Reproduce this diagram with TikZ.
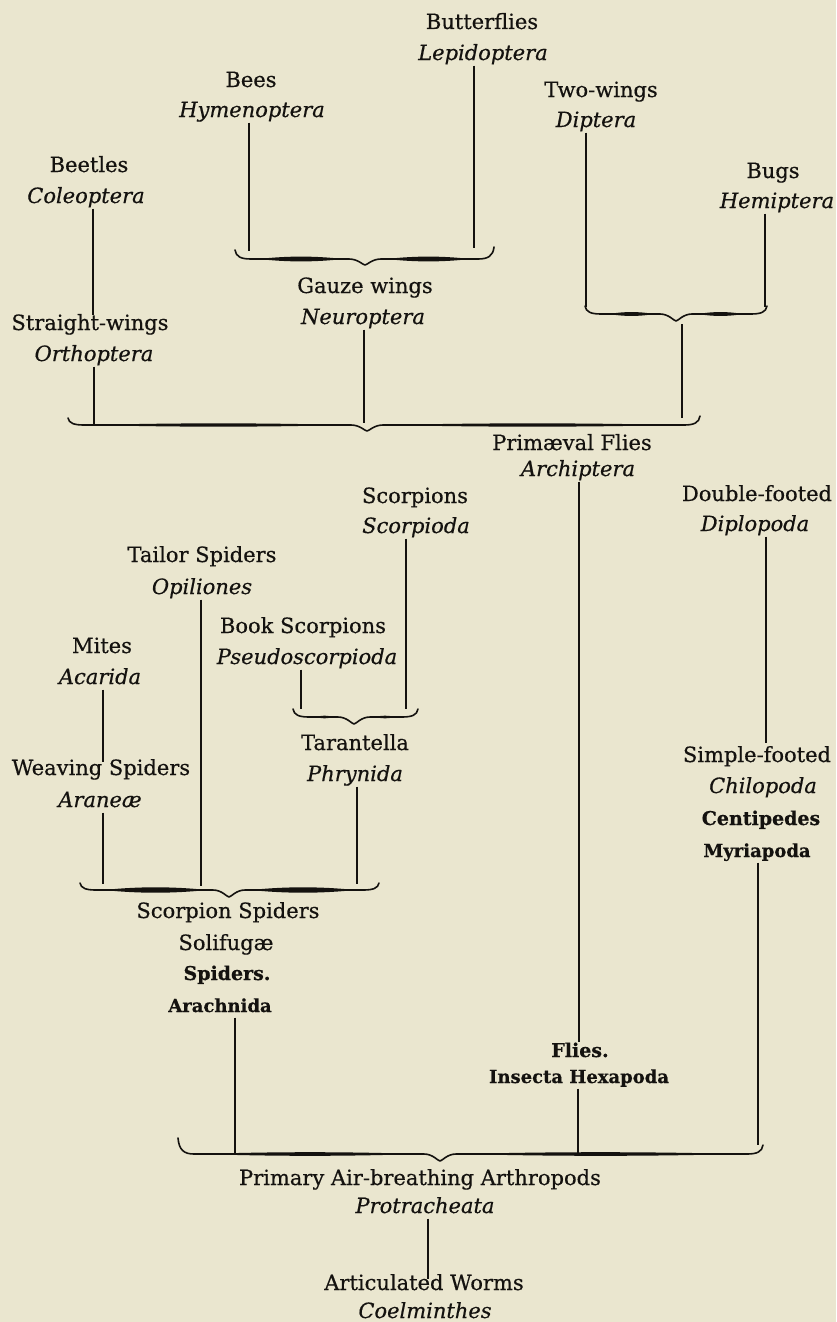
\documentclass[tikz,border=0pt]{standalone}
\usepackage{fontspec}
\setmainfont{DejaVu Serif}[FakeBold=0.5]
\definecolor{paper}{RGB}{234,230,207}
\definecolor{ink}{RGB}{20,18,15}
\tikzset{
  lab/.style={anchor=base, inner sep=3pt, text height=0.75em, text depth=0.25em,
    font=\fontsize{21}{25}\selectfont, text=ink},
  itl/.style={lab, font=\fontsize{21}{25}\selectfont\itshape},
  bld/.style={lab, font=\fontsize{18}{22}\selectfont\bfseries},
  gth/.style={lab, font=\fontsize{19}{25}\selectfont\bfseries},
  conn/.style={draw=ink, line width=1.5},
  brc/.style={draw=ink, line width=1.6, line cap=round, line join=round},
  brcfill/.style={fill=ink}
}
\newcommand\hbr[8]{%
  \pgfmathsetmacro\brHa{#1+16}\pgfmathsetmacro\brHb{#3-16}%
  \pgfmathsetmacro\brHc{#3+16}\pgfmathsetmacro\brHd{#5-16}%
  \pgfmathsetmacro\brCa{#2+0.75*(#4-#2)}\pgfmathsetmacro\brCb{#6+0.75*(#4-#6)}%
  \pgfmathsetmacro\brLa{#1+24}\pgfmathsetmacro\brLb{#3-22}%
  \pgfmathsetmacro\brLc{#3+22}\pgfmathsetmacro\brLd{#5-24}%
  \pgfmathsetmacro\brLab{(\brLb-\brLa)/3}\pgfmathsetmacro\brLcd{(\brLd-\brLc)/3}%
  \pgfmathsetmacro\brUp{#4-#8}\pgfmathsetmacro\brDn{#4+#8}%
  \draw[brc] (#1,#2) .. controls (#1+1,\brCa) and (#1+6,#4) .. (\brHa,#4)
    -- (\brHb,#4) .. controls (#3-7,#4) and (#3-2,#7) .. (#3,#7)
    .. controls (#3+2,#7) and (#3+7,#4) .. (\brHc,#4)
    -- (\brHd,#4) .. controls (#5-6,#4) and (#5-1,\brCb) .. (#5,#6);
  \fill[brcfill] (\brLa,#4) .. controls (\brLa+\brLab,\brDn) and (\brLb-\brLab,\brDn) .. (\brLb,#4)
    .. controls (\brLb-\brLab,\brUp) and (\brLa+\brLab,\brUp) .. cycle;
  \fill[brcfill] (\brLc,#4) .. controls (\brLc+\brLcd,\brDn) and (\brLd-\brLcd,\brDn) .. (\brLd,#4)
    .. controls (\brLd-\brLcd,\brUp) and (\brLc+\brLcd,\brUp) .. cycle;
}
\begin{document}
\begin{tikzpicture}[x=1pt,y=-1pt]
\fill[paper] (0,0) rectangle (836,1322);
\useasboundingbox (0,0) rectangle (836,1322);

% ---- insects, top
\node[lab] (butt) at (482,29) {Butterflies};
\node[itl] (lepi) at (483,60) {Lepidoptera};
\node[lab] (bees) at (251,87) {Bees};
\node[itl] (hyme) at (252,117) {Hymenoptera};
\node[lab] (twow) at (601,97) {Two-wings};
\node[itl] (dipt) at (596,127) {Diptera};
\node[lab] (beet) at (89,172) {Beetles};
\node[itl] (cole) at (86,203) {Coleoptera};
\node[lab] (bugs) at (773,178) {Bugs};
\node[itl] (hemi) at (777,208) {Hemiptera};
\node[lab] (gauz) at (365,293) {Gauze wings};
\node[itl] (neur) at (363,324) {Neuroptera};
\node[lab] (stra) at (90,330) {Straight-wings};
\node[itl] (orth) at (94,361) {Orthoptera};
\node[lab] (prim) at (572,450) {Primæval Flies};
\node[itl] (arch) at (578,476) {Archiptera};

% ---- spiders and myriapods
\node[lab] (scor) at (415,503) {Scorpions};
\node[itl] (scod) at (416,533) {Scorpioda};
\node[lab] (dbl) at (757,501) {Double-footed};
\node[itl] (dipl) at (755,531) {Diplopoda};
\node[lab] (tail) at (202,562) {Tailor Spiders};
\node[itl] (opil) at (202,594) {Opiliones};
\node[lab] (book) at (303,633) {Book Scorpions};
\node[itl] (pseu) at (307,664) {Pseudoscorpioda};
\node[lab] (mite) at (102,653) {Mites};
\node[itl] (acar) at (100,684) {Acarida};
\node[lab] (tara) at (355,750) {Tarantella};
\node[itl] (phry) at (355,781) {Phrynida};
\node[lab] (weav) at (101,775) {Weaving Spiders};
\node[itl] (aran) at (100,807) {Araneæ};
\node[lab] (ssp) at (228,918) {Scorpion Spiders};
\node[lab] (soli) at (226,950) {Solifugæ};
\node[gth] (spid) at (227,980) {Spiders.};
\node[bld] (arac) at (220,1012) {Arachnida};
\node[lab] (simp) at (757,762) {Simple-footed};
\node[itl] (chil) at (763,793) {Chilopoda};
\node[gth] (cent) at (761,825) {Centipedes};
\node[bld] (myri) at (757,857) {Myriapoda};
\node[gth] (flie) at (580,1057) {Flies.};
\node[bld] (inse) at (579,1083) {Insecta Hexapoda};
\node[lab] (pabr) at (420,1185) {Primary Air-breathing Arthropods};
\node[itl] (prot) at (425,1213) {Protracheata};
\node[lab] (artw) at (424,1290) {Articulated Worms};
\node[itl] (coel) at (425,1318) {Coelminthes};

% ---- braces
\hbr{235}{250}{365}{259}{494}{247}{265}{3.2}
\hbr{585}{306}{676}{314}{767}{306}{321}{2.6}
\hbr{68}{418}{367}{425}{700}{416}{431}{2.2}
\hbr{293}{709}{354}{717}{418}{709}{724}{1.8}
\hbr{80}{883}{229}{890}{379}{883}{897}{3.6}
\hbr{178}{1138}{440}{1154}{763}{1145}{1161}{2.4}

% ---- connector end points
\coordinate (b1l) at (249,251);
\coordinate (b1r) at (474,248);
\coordinate (b2l) at (586,307);
\coordinate (b2r) at (765,307);
\coordinate (b2t) at (682,324);
\coordinate (b3a) at (94,424);
\coordinate (b3b) at (364,423);
\coordinate (b3c) at (682,418);
\coordinate (b4l) at (301,709);
\coordinate (b4r) at (406,709);
\coordinate (b5a) at (103,884);
\coordinate (b5b) at (201,886);
\coordinate (b5c) at (357,884);
\coordinate (b6a) at (235,1153);
\coordinate (b6b) at (578,1153);
\coordinate (b6c) at (758,1145);
\coordinate (xbeet) at (93,0);
\coordinate (xmite) at (103,0);
\coordinate (xarch) at (579,0);
\coordinate (xdipl) at (766,0);
\coordinate (xprot) at (428,0);

% ---- connectors
\draw[conn] (hyme.south -| b1l) -- (b1l);
\draw[conn] (lepi.south -| b1r) -- (b1r);
\draw[conn] (dipt.south -| b2l) -- (b2l);
\draw[conn] (hemi.south -| b2r) -- (b2r);
\draw[conn] (cole.south -| xbeet) -- ([yshift=4pt]stra.north -| xbeet);
\draw[conn] (orth.south -| b3a) -- (b3a);
\draw[conn] (neur.south -| b3b) -- (b3b);
\draw[conn] (b2t) -- (b3c);
\draw[conn] (pseu.south -| b4l) -- (b4l);
\draw[conn] (scod.south -| b4r) -- (b4r);
\draw[conn] (opil.south -| b5b) -- (b5b);
\draw[conn] (acar.south -| xmite) -- ([yshift=2pt]weav.north -| xmite);
\draw[conn] (aran.south -| b5a) -- (b5a);
\draw[conn] (phry.south -| b5c) -- (b5c);
\draw[conn] (arch.south -| xarch) -- ([yshift=4pt]flie.north -| xarch);
\draw[conn] (dipl.south -| xdipl) -- ([yshift=8pt]simp.north -| xdipl);
\draw[conn] (arac.south -| b6a) -- (b6a);
\draw[conn] (inse.south -| b6b) -- (b6b);
\draw[conn] (myri.south -| b6c) -- (b6c);
\draw[conn] (prot.south -| xprot) -- (artw.north -| xprot);
\end{tikzpicture}
\end{document}
